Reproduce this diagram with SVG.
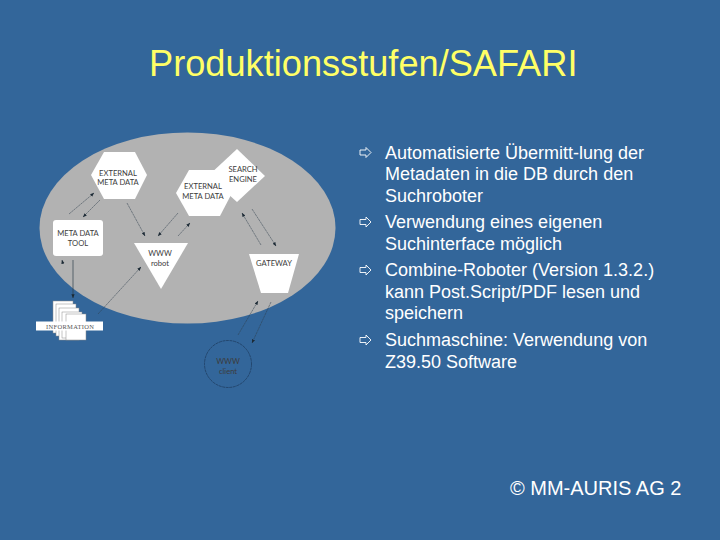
<svg xmlns="http://www.w3.org/2000/svg" width="720" height="540" viewBox="0 0 720 540">
<style>
.w{fill:#fff}
.p{fill:#fff;stroke:#8a8a8a;stroke-width:.5}
.d{font-family:"Lato","DejaVu Sans",sans-serif;font-size:7.6px;fill:#3c3c3c;text-anchor:middle}
.t{font-family:"Liberation Sans",Arial,sans-serif;font-size:18px;fill:#fff}
.c line{stroke:#2f3f4c;stroke-width:.5;stroke-dasharray:2.500 .5;marker-end:url(#a)}
</style>
<defs>
<marker id="a" markerWidth="4" markerHeight="4" refX="3.800" refY="2" orient="auto" markerUnits="userSpaceOnUse"><path d="M0 .4L4 2L0 3.600Z" fill="#1c2a35"/></marker>
<path id="bu" d="M0 -2.500H6V-5L11 0L6 5V2.500H0Z"/>
</defs>
<rect width="720" height="540" fill="#33669a"/>
<text x="149" y="75.500" font-family="Liberation Sans,Arial,sans-serif" font-size="36.200" fill="#ffff66">Produktionsstufen/SAFARI</text>
<ellipse id="cloud" cx="187.500" cy="228" rx="148" ry="95.500" fill="#b2b2b2"/>
<g id="search-engine"><polygon class="w" points="237,149 265,176 237,202 208,176"/><text class="d" x="243" y="172">SEARCH</text><text class="d" x="243" y="182">ENGINE</text></g>
<g id="external-1"><polygon class="w" points="91,175 104,152 135,152 147,175 135,199 104,199"/><text class="d" x="118" y="176">EXTERNAL</text><text class="d" x="118" y="185">META DATA</text></g>
<g id="external-2"><polygon class="w" points="176,193 189,170 220,170 232,193 220,216 189,216"/><text class="d" x="203" y="189">EXTERNAL</text><text class="d" x="203" y="199">META DATA</text></g>
<g id="meta-tool"><rect class="w" x="53" y="220" width="50" height="36" rx="3"/><text class="d" x="78" y="236">META DATA</text><text class="d" x="78" y="246">TOOL</text></g>
<g id="robot"><polygon class="w" points="134,243 188,243 161,289"/><text class="d" x="160" y="256">WWW</text><text class="d" x="160" y="266">robot</text></g>
<g id="gateway"><polygon class="w" points="249,254 299,254 288,293 261,293"/><text class="d" x="274" y="266">GATEWAY</text></g>
<g id="information">
<rect class="p" x="53" y="301" width="20" height="32"/><rect class="p" x="56" y="304" width="20" height="32"/><rect class="p" x="59" y="308" width="20" height="32"/><rect class="p" x="62" y="312" width="20" height="26"/><rect class="p" x="66" y="314" width="20" height="26"/>
<rect class="w" x="36" y="321.500" width="67" height="9"/>
<text x="70" y="328.500" font-family="Liberation Serif,serif" font-size="6.500" fill="#555" text-anchor="middle" textLength="48">INFORMATION</text>
</g>
<g id="client"><circle cx="228" cy="364" r="23.500" fill="none" stroke="#1d3a5c" stroke-width=".7" stroke-dasharray="3 .6"/><text class="d" x="228" y="364" fill="#16263a">WWW</text><text class="d" x="228" y="374" fill="#16263a">client</text></g>
<g id="connectors" class="c">
<line x1="69" y1="214" x2="94" y2="193"/><line x1="100" y1="200" x2="83" y2="217"/>
<line x1="127" y1="203" x2="145" y2="236"/><line x1="178" y1="213" x2="158" y2="236"/><line x1="178" y1="236" x2="190" y2="223"/>
<line x1="261" y1="245" x2="242" y2="213"/><line x1="252" y1="209" x2="276" y2="246"/>
<line x1="73" y1="260" x2="73" y2="298" style="stroke-dasharray:none;stroke-width:.7"/><line x1="63" y1="264" x2="62" y2="260"/>
<line x1="98" y1="314" x2="141" y2="267"/>
<line x1="238" y1="335" x2="258" y2="301"/><line x1="271" y1="302" x2="252" y2="343"/>
</g>
<g id="bullets" fill="none" stroke="#fff" stroke-width=".9">
<use href="#bu" x="360" y="152.500"/><use href="#bu" x="360" y="222"/><use href="#bu" x="360" y="270"/><use href="#bu" x="360" y="340"/>
</g>
<g id="body" class="t">
<text x="385" y="158.500">Automatisierte Übermitt-lung der</text>
<text x="385" y="180">Metadaten in die DB durch den</text>
<text x="385" y="201.500">Suchroboter</text>
<text x="385" y="228">Verwendung eines eigenen</text>
<text x="385" y="249.500">Suchinterface möglich</text>
<text x="385" y="276">Combine-Roboter (Version 1.3.2.)</text>
<text x="385" y="297.500">kann Post.Script/PDF lesen und</text>
<text x="385" y="319">speichern</text>
<text x="385" y="346">Suchmaschine: Verwendung von</text>
<text x="385" y="367.500">Z39.50 Software</text>
</g>
<text x="510" y="495" font-family="Liberation Sans,Arial,sans-serif" font-size="20px" fill="#fff">© MM-AURIS AG 2</text>
</svg>
